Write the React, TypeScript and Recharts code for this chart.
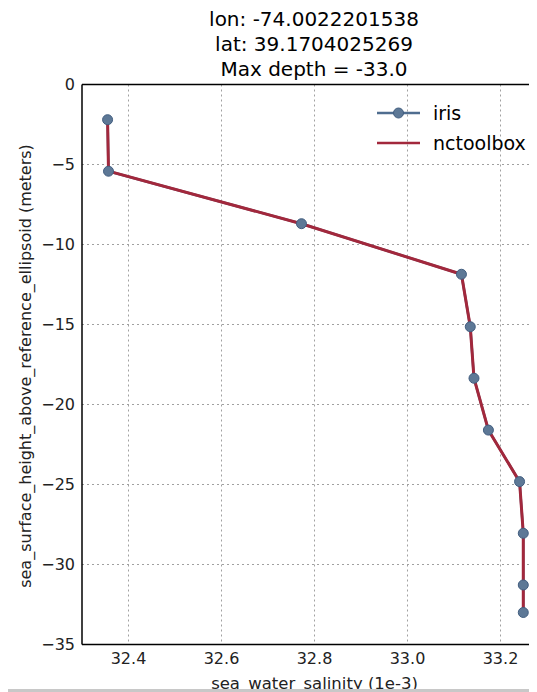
import {
  LineChart,
  Line,
  XAxis,
  YAxis,
  CartesianGrid,
  ReferenceLine,
  Legend,
  Label,
} from 'recharts'

const salinity = [32.355, 32.357, 32.772, 33.116, 33.135, 33.143, 33.174, 33.241, 33.249, 33.249, 33.249]
const irisDepth = [-2.2, -5.42, -8.7, -11.86, -15.14, -18.36, -21.6, -24.82, -28.05, -31.28, -33.0]
const nctoolboxDepth = [-2.2, -5.42, -8.7, -11.86, -15.14, -18.36, -21.6, -24.82, -28.05, -31.28, -33.0]

const xTicks = [32.4, 32.6, 32.8, 33.0, 33.2]
const yTicks = [0, -5, -10, -15, -20, -25, -30, -35]
const titleLines = ['lon: -74.0022201538', 'lat: 39.1704025269', 'Max depth = -33.0']

const data = salinity.map((s, i) => ({
  salinity: s,
  iris: irisDepth[i],
  nctoolbox: nctoolboxDepth[i],
}))

const font = '"DejaVu Sans", sans-serif'
const blue = '#4f6d8f'
const red = '#a2283c'

const minus = (v: number) => String(v).replace('-', '\u2212')

function LegendBox() {
  const rows = [
    { name: 'iris', color: blue, dot: true },
    { name: 'nctoolbox', color: red, dot: false },
  ]
  return (
    <div style={{ fontFamily: font, fontSize: 19, color: '#000' }}>
      {rows.map((r) => (
        <div key={r.name} style={{ display: 'flex', alignItems: 'center', height: 30 }}>
          <svg width={43} height={30}>
            <line x1={0} y1={15} x2={43} y2={15} stroke={r.color} strokeWidth={2.5} />
            {r.dot && <circle cx={21.5} cy={15} r={5} fill="#5d7896" stroke="#425e80" />}
          </svg>
          <span style={{ marginLeft: 13 }}>{r.name}</span>
        </div>
      ))}
    </div>
  )
}

export default function App() {
  return (
    <div
      style={{
        position: 'relative',
        width: 529,
        height: 681,
        overflow: 'hidden',
        borderBottom: '3px solid #c8c8c8',
        fontFamily: font,
      }}
    >
      <div
        style={{
          position: 'absolute',
          top: -1,
          left: 146,
          width: 320,
          textAlign: 'center',
          fontSize: 20,
          lineHeight: '25px',
          zIndex: 2,
        }}
      >
        {titleLines.map((t) => (
          <div key={t}>{t}</div>
        ))}
      </div>
      <LineChart
        width={560}
        height={700}
        data={data}
        margin={{ top: 76.5, right: 21, bottom: 3.5, left: 0 }}
      >
        <CartesianGrid
          stroke="#a0a0a0"
          strokeDasharray="2 3"
          verticalValues={xTicks}
          horizontalValues={yTicks}
        />
        <XAxis
          type="number"
          dataKey="salinity"
          domain={[32.3, 33.3]}
          ticks={xTicks}
          tickFormatter={(v: number) => v.toFixed(1)}
          tickLine={false}
          axisLine={{ stroke: '#000', strokeWidth: 1.5 }}
          tick={{ fill: '#222', fontSize: 16, fontFamily: font }}
          height={60}
          allowDataOverflow
        >
          <Label
            value="sea_water_salinity (1e-3)"
            position="insideBottom"
            offset={15.5}
            style={{ fill: '#222', fontSize: 16.5, fontFamily: font }}
          />
        </XAxis>
        <YAxis
          type="number"
          domain={[-35, 0]}
          ticks={yTicks}
          tickFormatter={minus}
          tickLine={false}
          axisLine={{ stroke: '#000', strokeWidth: 1.5 }}
          tick={{ fill: '#222', fontSize: 16, fontFamily: font }}
          width={74}
          tickMargin={1}
        >
          <Label
            value="sea_surface_height_above_reference_ellipsoid (meters)"
            content={() => (
              <text
                x={17}
                y={358}
                transform="rotate(-90, 17, 358)"
                textAnchor="middle"
                dominantBaseline="central"
                style={{ fill: '#222', fontSize: 16, fontFamily: font }}
              >
                sea_surface_height_above_reference_ellipsoid (meters)
              </text>
            )}
          />
        </YAxis>
        <ReferenceLine y={0} stroke="#000" strokeWidth={1.5} />
        <Line
          dataKey="iris"
          stroke={blue}
          strokeWidth={2.5}
          dot={{ r: 5, fill: '#5d7896', stroke: '#425e80', strokeWidth: 1, fillOpacity: 1 }}
          isAnimationActive={false}
        />
        <Line
          dataKey="nctoolbox"
          stroke={red}
          strokeWidth={3}
          dot={false}
          isAnimationActive={false}
        />
        <Legend
          layout="horizontal"
          verticalAlign="middle"
          align="center"
          content={() => <LegendBox />}
          wrapperStyle={{ top: 90, left: 369, width: 170, height: 60 }}
        />
      </LineChart>
    </div>
  )
}
